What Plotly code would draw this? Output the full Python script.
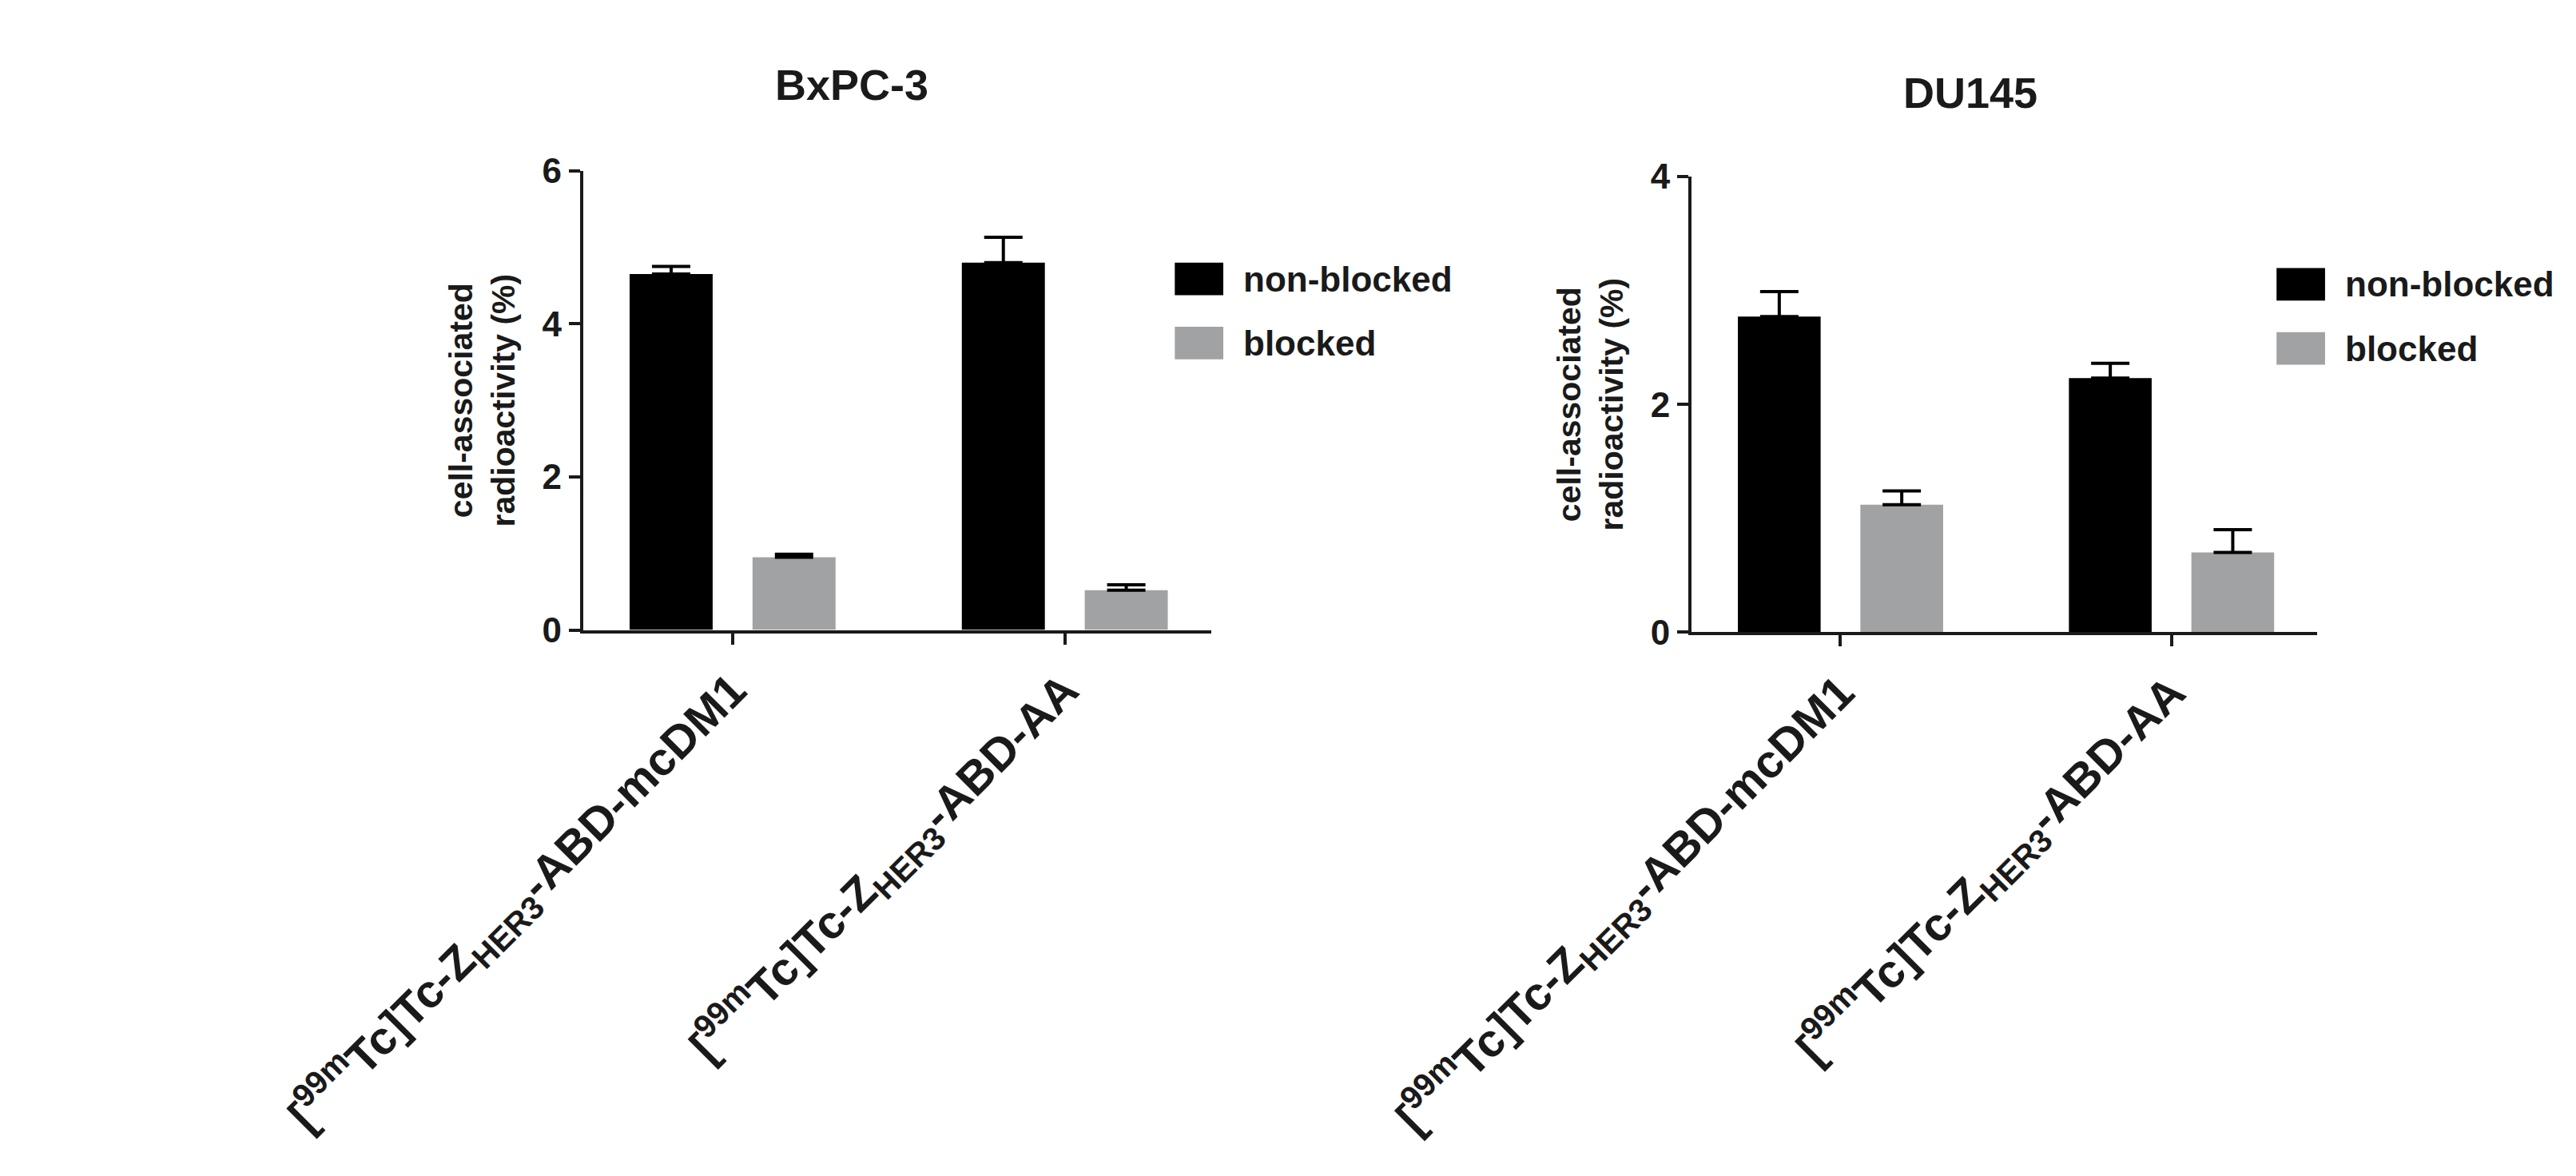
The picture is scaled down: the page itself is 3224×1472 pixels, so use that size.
import plotly.graph_objects as go

categories = ["[<sup>99m</sup>Tc]Tc-Z<sub>HER3</sub>-ABD-mcDM1", "[<sup>99m</sup>Tc]Tc-Z<sub>HER3</sub>-ABD-AA"]
bx_nonblocked = [4.65, 4.80]
bx_nonblocked_err = [0.10, 0.33]
bx_blocked = [0.95, 0.52]
bx_blocked_err = [0.04, 0.07]
du_nonblocked = [2.77, 2.23]
du_nonblocked_err = [0.22, 0.13]
du_blocked = [1.12, 0.70]
du_blocked_err = [0.12, 0.20]
series_names = ["non-blocked", "blocked"]
colors = ["#000000", "#a0a2a4"]
FONT = "Liberation Sans"
TXT = "#1a1a1a"

fig = go.Figure()
xs = [0, 1]
def add(vals, err, color, offset, xa, ya):
    fig.add_trace(go.Bar(x=xs, y=vals, marker=dict(color=color, line=dict(width=0)),
                         width=0.25, offset=offset, xaxis=xa, yaxis=ya, showlegend=False,
                         error_y=dict(type="data", symmetric=False, array=err, arrayminus=[0, 0],
                                      color="#000", thickness=4, width=24)))
add(bx_nonblocked, bx_nonblocked_err, colors[0], -0.31, "x", "y")
add(bx_blocked, bx_blocked_err, colors[1], 0.06, "x", "y")
add(du_nonblocked, du_nonblocked_err, colors[0], -0.31, "x2", "y2")
add(du_blocked, du_blocked_err, colors[1], 0.06, "x2", "y2")

xcommon = dict(range=[-0.45, 1.44], tickmode="array", tickvals=xs,
               ticktext=["<b>" + c + "</b>" for c in categories],
               tickangle=-45, showline=True, linecolor="#1a1a1a", linewidth=4,
               ticks="outside", ticklen=14, tickwidth=4, tickcolor="#1a1a1a",
               tickfont=dict(family=FONT, size=58, color=TXT), showgrid=False, zeroline=False)
ycommon = dict(showline=True, linecolor="#1a1a1a", linewidth=4, ticks="outside", ticklen=14,
               tickwidth=4, tickcolor="#1a1a1a", showgrid=False, zeroline=False,
               tickfont=dict(family=FONT, size=44, color=TXT),
               title=dict(text="<b>cell-associated<br>radioactivity (%)</b>",
                          font=dict(family=FONT, size=41, color=TXT), standoff=22))
fig.update_layout(
    width=3224, height=1472, margin=dict(l=0, r=0, t=0, b=0),
    paper_bgcolor="white", plot_bgcolor="white",
    font=dict(family=FONT, color=TXT),
    xaxis=dict(domain=[0.118, 0.395], anchor="y", **xcommon),
    yaxis=dict(domain=[0.469, 0.873], anchor="x", range=[0, 6], tickvals=[0, 2, 4, 6],
               ticktext=["<b>0</b>", "<b>2</b>", "<b>4</b>", "<b>6</b>"], **ycommon),
    xaxis2=dict(domain=[0.607, 0.883], anchor="y2", **xcommon),
    yaxis2=dict(domain=[0.467, 0.868], anchor="x2", range=[0, 4], tickvals=[0, 2, 4],
                ticktext=["<b>0</b>", "<b>2</b>", "<b>4</b>"], **ycommon),
)

ann = [dict(text="<b>BxPC-3</b>", x=763/3224, y=1-75/1472),
       dict(text="<b>DU145</b>", x=2354/3224, y=1-86/1472)]
for a in ann:
    fig.add_annotation(xref="paper", yref="paper", showarrow=False, xanchor="center", yanchor="middle",
                       font=dict(family=FONT, size=54, color=TXT), **a)

legends = [(1222, 306, 389), (2789, 313, 396)]
for lx, y1, y2 in legends:
    for name, col, yy in zip(series_names, colors, [y1, y2]):
        fig.add_shape(type="rect", xref="paper", yref="paper",
                      x0=lx/3224, x1=(lx+69)/3224, y0=1-yy/1472, y1=1-(yy+42)/1472,
                      fillcolor=col, line=dict(width=0))
        fig.add_annotation(xref="paper", yref="paper", showarrow=False, xanchor="left", yanchor="middle",
                           x=(lx+95)/3224, y=1-(yy+21)/1472, text="<b>" + name + "</b>",
                           font=dict(family=FONT, size=44, color=TXT))

fig.write_html("out.html")
